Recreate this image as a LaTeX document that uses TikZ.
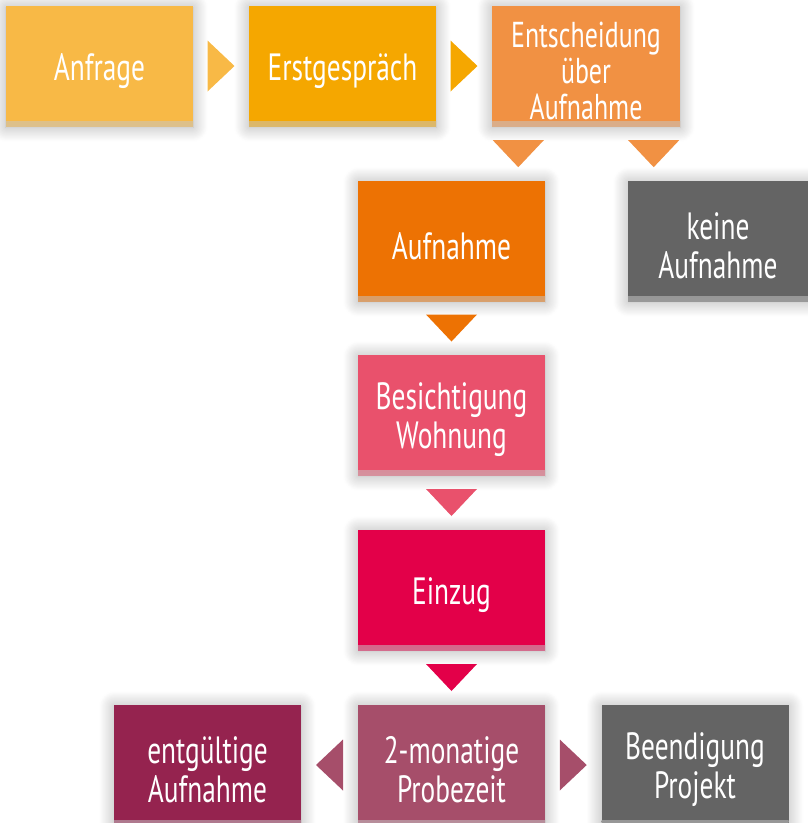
\documentclass[tikz,border=0pt]{standalone}
\usepackage{fontspec}
\setmainfont{PT Sans}[FakeStretch=0.72]
\usetikzlibrary{calc,shadows.blur}
\definecolor{cAnfrage}{RGB}{248,185,70}
\definecolor{cErst}{RGB}{245,167,0}
\definecolor{cEnt}{RGB}{241,145,67}
\definecolor{cAuf}{RGB}{237,114,3}
\definecolor{cGray}{RGB}{100,100,100}
\definecolor{cBes}{RGB}{233,81,108}
\definecolor{cEin}{RGB}{227,0,73}
\definecolor{cProbe}{RGB}{166,78,106}
\definecolor{cEndg}{RGB}{149,35,79}
\newcommand{\topstrut}{\rule{0pt}{0.96em}}
\tikzset{
  box/.style={fill=#1, minimum height=120pt, minimum width=187pt, inner sep=0pt,
    text=white, align=center, font=\fontsize{38}{39}\selectfont,
    blur shadow={shadow xshift=0pt, shadow yshift=-1pt, shadow blur radius=15pt,
      shadow blur steps=30, shadow opacity=32},
    path picture={\shade[top color=#1, bottom color=#1!65!gray!70]
      ([yshift=5pt]path picture bounding box.south west) rectangle (path picture bounding box.south east);}},
  tri/.style={fill=#1, draw=none}
}
\newcommand{\trir}[3]{% right-pointing triangle between nodes #1 (left) and #2 (right), colour #3
  \coordinate (m) at ($(#1.east)!0.5!(#2.west)$);
  \fill[tri=#3] ($(m)+(-13.5,-25.5)$) -- ($(m)+(13.5,0)$) -- ($(m)+(-13.5,25.5)$) -- cycle;}
\newcommand{\tril}[3]{% left-pointing triangle between nodes #1 (right) and #2 (left)
  \coordinate (m) at ($(#1.west)!0.5!(#2.east)$);
  \fill[tri=#3] ($(m)+(13.5,-25.5)$) -- ($(m)+(-13.5,0)$) -- ($(m)+(13.5,25.5)$) -- cycle;}
\newcommand{\trid}[3]{% down-pointing triangle between nodes #1 (upper) and #2 (lower)
  \coordinate (m) at ($(#1.south)!0.5!(#2.north)$);
  \fill[tri=#3] ($(m)+(-25.5,-13.5)$) -- ($(m)+(25.5,-13.5)$) -- ($(m)+(0,13.5)$) -- cycle;}
\begin{document}
\begin{tikzpicture}[x=1pt,y=-1pt]
\useasboundingbox (0,0) rectangle (808,823);
\node[box=cAnfrage] (anf) at (99.5,66) {\topstrut Anfrage};
\node[box=cErst] (erst) at (342.5,66) {\topstrut Erstgespräch};
\node[box=cEnt, font=\fontsize{36}{36}\selectfont, minimum width=188pt] (ent) at (586,66) {\topstrut Entscheidung\\über\\Aufnahme};
\node[box=cAuf] (auf) at (451.5,241) {\topstrut Aufnahme};
\node[box=cGray, minimum width=180pt] (keine) at (718,241) {\topstrut keine\\Aufnahme};
\node[box=cBes] (bes) at (451.5,415) {\topstrut Besichtigung\\Wohnung};
\node[box=cEin] (ein) at (451.5,590) {\topstrut Einzug};
\node[box=cProbe] (probe) at (451.5,765) {\topstrut 2-monatige\\Probezeit};
\node[box=cEndg] (endg) at (207.5,765) {\topstrut entgültige\\Aufnahme};
\node[box=cGray] (beend) at (695,765) {\topstrut Beendigung\\Projekt};
% connectors
\trir{anf}{erst}{cAnfrage}
\trir{erst}{ent}{cErst}
\fill[tri=cEnt] ($(ent.south west)+(1,14)$) -- ($(ent.south west)+(52,14)$) -- ($(ent.south west)+(26.5,41)$) -- cycle;
\fill[tri=cEnt] ($(ent.south east)+(-52,14)$) -- ($(ent.south east)+(-1,14)$) -- ($(ent.south east)+(-26.5,41)$) -- cycle;
\trid{auf}{bes}{cAuf}
\trid{bes}{ein}{cBes}
\trid{ein}{probe}{cEin}
\tril{probe}{endg}{cProbe}
\trir{probe}{beend}{cProbe}
\end{tikzpicture}
\end{document}
